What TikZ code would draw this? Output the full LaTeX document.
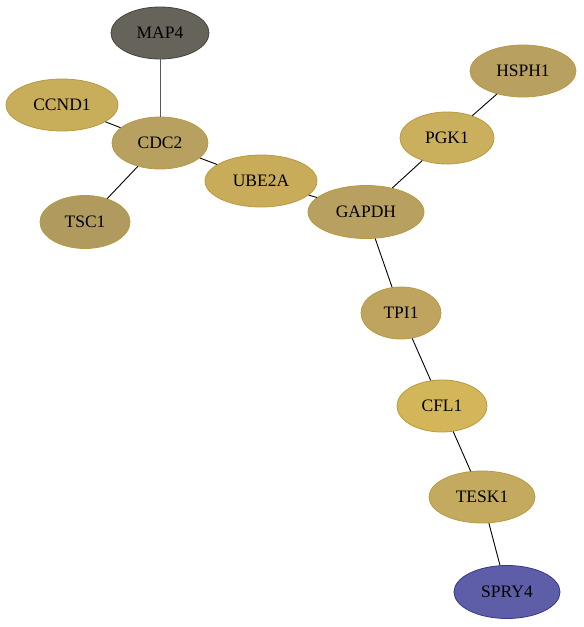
\documentclass[tikz,border=0pt]{standalone}
\usepackage{fontspec}
\setmainfont{Liberation Serif}
\usetikzlibrary{shapes.geometric}
\definecolor{gold}{HTML}{B89A40}
\definecolor{fA}{HTML}{B8A060}
\definecolor{fB}{HTML}{C8AE5B}
\definecolor{fC}{HTML}{B09A5E}
\definecolor{fD}{HTML}{C8AC5A}
\definecolor{fE}{HTML}{CAB05C}
\definecolor{fF}{HTML}{BFA460}
\definecolor{fG}{HTML}{D4B65A}
\definecolor{fH}{HTML}{C4AA5E}
\definecolor{fMap}{HTML}{66635A}
\definecolor{bMap}{HTML}{45443C}
\definecolor{fSpry}{HTML}{5E5EA8}
\definecolor{bSpry}{HTML}{36368C}
\tikzset{
  gene/.style={ellipse, draw=gold, line width=0.8pt, inner sep=0pt, font=\fontsize{17.5}{20}\selectfont},
  edge/.style={draw=black, line width=0.9pt},
}
\newcommand{\gn}[6]{\node[gene, fill=#4, minimum width=#5pt, minimum height=#6pt] (#1) at (#2pt,-#3pt) {#1};}
\begin{document}
\begin{tikzpicture}
\useasboundingbox (0,0) rectangle (584pt,-627pt);
\node[gene, fill=fMap, draw=bMap, minimum width=98pt, minimum height=52pt] (MAP4) at (160pt,-33pt) {MAP4};
\gn{CCND1}{62}{105}{fB}{112}{52}
\gn{CDC2}{160}{143}{fA}{96}{52}
\gn{TSC1}{85}{222}{fC}{90}{53}
\gn{UBE2A}{261}{181}{fD}{112}{52}
\gn{GAPDH}{366}{212}{fA}{116}{53}
\gn{PGK1}{447}{138}{fE}{94}{52}
\gn{HSPH1}{523}{71}{fA}{106}{52}
\gn{TPI1}{401}{313}{fF}{80}{52}
\gn{CFL1}{442}{406}{fG}{90}{52}
\gn{TESK1}{482}{497}{fH}{106}{52}
\node[gene, fill=fSpry, draw=bSpry, minimum width=106pt, minimum height=53pt] (SPRY4) at (507pt,-592pt) {SPRY4};
\draw[edge, draw=black!65] (MAP4) -- (CDC2);
\draw[edge] (CCND1) -- (CDC2);
\draw[edge] (CDC2) -- (TSC1);
\draw[edge] (CDC2) -- (UBE2A);
\draw[edge] (UBE2A) -- (GAPDH);
\draw[edge] (GAPDH) -- (PGK1);
\draw[edge] (PGK1) -- (HSPH1);
\draw[edge] (GAPDH) -- (TPI1);
\draw[edge] (TPI1) -- (CFL1);
\draw[edge] (CFL1) -- (TESK1);
\draw[edge] (TESK1) -- (SPRY4);
\end{tikzpicture}
\end{document}
